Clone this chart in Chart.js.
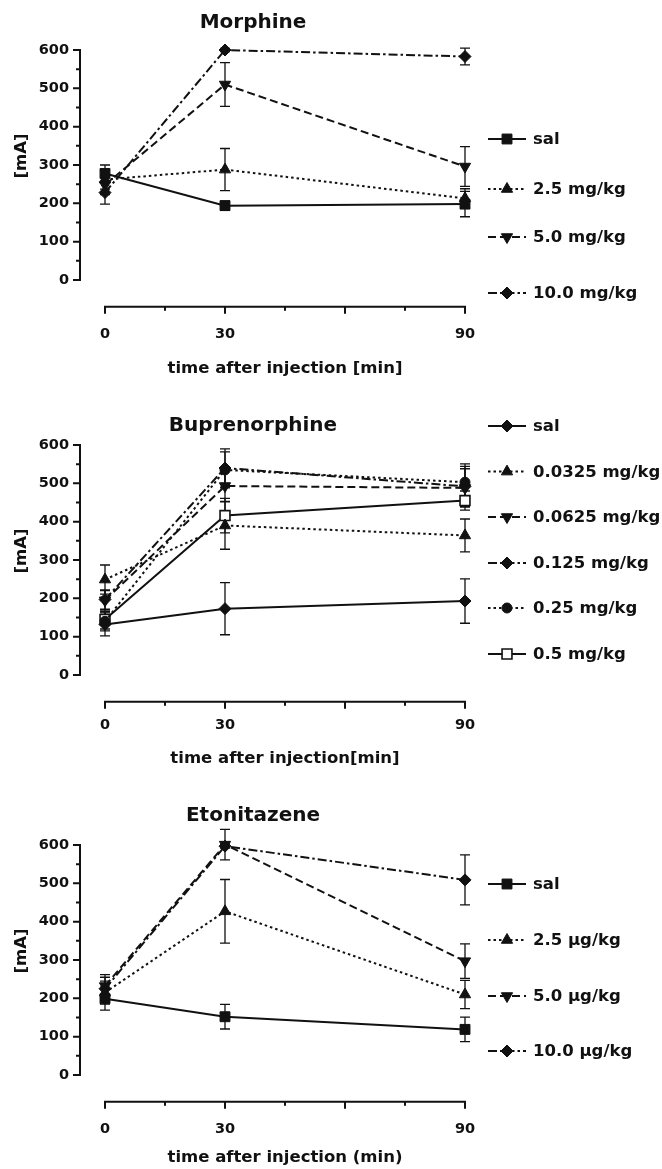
<!DOCTYPE html>
<html>
<head>
<meta charset="utf-8">
<script src="https://cdn.jsdelivr.net/npm/chart.js@4.4.1/dist/chart.umd.min.js"></script>
<style>
  html, body { margin: 0; padding: 0; background: #ffffff; }
  #wrap { position: relative; width: 662px; height: 1169px; overflow: hidden; }
  .pan { position: absolute; left: 0; width: 662px; }
</style>
</head>
<body>
<div id="wrap">
  <div class="pan" style="top:0px;height:390px"><canvas id="c1"></canvas></div>
  <div class="pan" style="top:390px;height:390px"><canvas id="c2"></canvas></div>
  <div class="pan" style="top:780px;height:389px"><canvas id="c3"></canvas></div>
</div>
<script>
// ---------------- DATA ----------------
const times = [0, 30, 90];
const xTickValues = [0, 30, 90];
const xAxisMarks = [0, 15, 30, 45, 60, 75, 90];
const xMajorMarks = [0, 30, 60, 90];
const yTickValues = [0, 100, 200, 300, 400, 500, 600];
const yAxisMarks = [0, 50, 100, 150, 200, 250, 300, 350, 400, 450, 500, 550, 600];

const panelTitles = ['Morphine', 'Buprenorphine', 'Etonitazene'];
const xTitles = ['time after injection [min]', 'time after injection[min]', 'time after injection (min)'];
const yTitle = '[mA]';

// Morphine
const morLabels = ['sal', '2.5 mg/kg', '5.0 mg/kg', '10.0 mg/kg'];
const morSal = [278, 194, 198];
const morSalErr = [22, 12, 33];
const mor25 = [262, 288, 213];
const mor25Err = [25, 55, 25];
const mor50 = [248, 510, 296];
const mor50Err = [25, 57, 52];
const mor100 = [228, 600, 583];
const mor100Err = [30, 4, 22];

// Buprenorphine
const bupLabels = ['sal', '0.0325 mg/kg', '0.0625 mg/kg', '0.125 mg/kg', '0.25 mg/kg', '0.5 mg/kg'];
const bupSal = [132, 173, 193];
const bupSalErr = [30, 68, 58];
const bup0325 = [249, 390, 364];
const bup0325Err = [38, 62, 43];
const bup0625 = [195, 493, 488];
const bup0625Err = [25, 40, 50];
const bup125 = [197, 540, 492];
const bup125Err = [25, 50, 52];
const bup25 = [140, 535, 503];
const bup25Err = [25, 47, 48];
const bup5 = [145, 416, 455];
const bup5Err = [25, 45, 25];

// Etonitazene
const etoLabels = ['sal', '2.5 \u00b5g/kg', '5.0 \u00b5g/kg', '10.0 \u00b5g/kg'];
const etoSal = [199, 152, 119];
const etoSalErr = [30, 32, 32];
const eto25 = [215, 427, 210];
const eto25Err = [30, 83, 37];
const eto50 = [232, 601, 297];
const eto50Err = [30, 40, 45];
const eto100 = [225, 597, 509];
const eto100Err = [30, 5, 65];

// ---------------- STYLE ----------------
const INK = '#111111';
const FONT = '"DejaVu Sans", "Liberation Sans", Arial, sans-serif';
const SOLID = [];
const DOT = [2.5, 3];
const DASH = [8, 4];
const DASHDOT = [9, 3, 2.5, 3];
const AREA_H = 670 * 230 / 600; // y from -70 to 600, 230px per 600 units

function drawMarker(ctx, style, x, y, r, rot, fill) {
  ctx.save();
  ctx.setLineDash([]);
  ctx.beginPath();
  if (style === 'rect') {
    const s = Math.SQRT1_2 * r;
    ctx.rect(x - s, y - s, 2 * s, 2 * s);
  } else if (style === 'rectRot') {
    ctx.moveTo(x - r, y); ctx.lineTo(x, y - r); ctx.lineTo(x + r, y); ctx.lineTo(x, y + r); ctx.closePath();
  } else if (style === 'triangle') {
    let a = (rot || 0) * Math.PI / 180;
    for (let k = 0; k < 3; k++) {
      const px = x + Math.sin(a) * r, py = y - Math.cos(a) * r;
      if (k === 0) ctx.moveTo(px, py); else ctx.lineTo(px, py);
      a += 2 * Math.PI / 3;
    }
    ctx.closePath();
  } else {
    ctx.arc(x, y, r, 0, Math.PI * 2);
  }
  ctx.fillStyle = fill;
  ctx.fill();
  ctx.lineWidth = fill === '#ffffff' ? 1.6 : 1;
  ctx.strokeStyle = INK;
  ctx.stroke();
  ctx.restore();
}

const axesPlugin = {
  id: 'customAxes',
  beforeDatasetsDraw(chart) {
    const { ctx, chartArea: a, scales: { x, y } } = chart;
    ctx.save();
    ctx.strokeStyle = INK;
    ctx.lineWidth = 2;
    ctx.setLineDash([]);
    // y axis
    const yTop = y.getPixelForValue(600), yBot = y.getPixelForValue(0);
    ctx.beginPath();
    ctx.moveTo(a.left, yTop - 1); ctx.lineTo(a.left, yBot + 1);
    yAxisMarks.forEach(v => {
      const py = y.getPixelForValue(v);
      const len = yTickValues.includes(v) ? 7 : 4;
      ctx.moveTo(a.left - len, py); ctx.lineTo(a.left, py);
    });
    ctx.stroke();
    // x axis
    const xl = x.getPixelForValue(0), xr = x.getPixelForValue(90);
    ctx.beginPath();
    ctx.moveTo(xl - 1, a.bottom); ctx.lineTo(xr + 1, a.bottom);
    xAxisMarks.forEach(v => {
      const px = x.getPixelForValue(v);
      const len = xMajorMarks.includes(v) ? 7 : 4;
      ctx.moveTo(px, a.bottom); ctx.lineTo(px, a.bottom + len);
    });
    ctx.stroke();
    // error bars
    ctx.lineWidth = 1.3;
    chart.data.datasets.forEach(ds => {
      ds.data.forEach((p, j) => {
        const e = ds.err[j];
        if (!e) return;
        const px = x.getPixelForValue(p.x);
        const top = y.getPixelForValue(p.y + e), bot = y.getPixelForValue(p.y - e);
        ctx.beginPath();
        ctx.moveTo(px, top); ctx.lineTo(px, bot);
        ctx.moveTo(px - 5, top); ctx.lineTo(px + 5, top);
        ctx.moveTo(px - 5, bot); ctx.lineTo(px + 5, bot);
        ctx.stroke();
      });
    });
    ctx.restore();
  }
};

const textPlugin = {
  id: 'customText',
  afterDraw(chart) {
    const o = chart.options.plugins.customText;
    const { ctx, scales: { x, y } } = chart;
    ctx.save();
    ctx.fillStyle = INK;
    ctx.textBaseline = 'middle';
    ctx.textAlign = 'center';
    ctx.font = 'bold 20px ' + FONT;
    ctx.fillText(o.title, o.titleX, o.titleY);
    ctx.font = 'bold 16.5px ' + FONT;
    ctx.fillText(o.xTitle, (x.getPixelForValue(0) + x.getPixelForValue(90)) / 2, o.xTitleY);
    ctx.save();
    ctx.translate(22, (y.getPixelForValue(0) + y.getPixelForValue(600)) / 2 - 9);
    ctx.rotate(-Math.PI / 2);
    ctx.fillText(yTitle, 0, 0);
    ctx.restore();
    // legend
    ctx.textAlign = 'left';
    chart.data.datasets.forEach((ds, i) => {
      const ly = o.legendY[i];
      ctx.save();
      ctx.strokeStyle = INK;
      ctx.lineWidth = 2;
      ctx.setLineDash(ds.borderDash);
      ctx.beginPath();
      ctx.moveTo(488, ly); ctx.lineTo(526, ly);
      ctx.stroke();
      ctx.restore();
      drawMarker(ctx, ds.pointStyle, 507, ly, ds.pointRadius, ds.pointRotation, ds.pointBackgroundColor);
      ctx.font = 'bold 16.5px ' + FONT;
      ctx.fillStyle = INK;
      ctx.fillText(ds.label, 533, ly + 1);
    });
    ctx.restore();
  }
};

function series(label, values, err, style, dash, r, rot, open) {
  return {
    label: label,
    data: times.map((t, j) => ({ x: t, y: values[j] })),
    err: err,
    borderColor: INK,
    backgroundColor: INK,
    borderWidth: 2,
    borderDash: dash,
    pointStyle: style,
    pointRadius: r,
    pointHoverRadius: r,
    pointRotation: rot || 0,
    pointBackgroundColor: open ? '#ffffff' : INK,
    pointBorderColor: INK,
    pointBorderWidth: open ? 1.6 : 1,
    tension: 0,
    fill: false,
    clip: false
  };
}

function makePanel(id, H, top600, xLabelPad, datasets, textOpts) {
  const canvas = document.getElementById(id);
  canvas.width = 662; canvas.height = H;
  canvas.style.width = '662px'; canvas.style.height = H + 'px';
  const tickFont = { family: FONT, size: 14.5, weight: 'bold' };
  return new Chart(canvas, {
    type: 'line',
    data: { datasets: datasets },
    options: {
      responsive: false,
      animation: false,
      devicePixelRatio: 1,
      layout: { padding: { top: top600, left: 0, right: 662 - 465, bottom: 0 } },
      plugins: { legend: { display: false }, tooltip: { enabled: false }, title: { display: false }, customText: textOpts },
      scales: {
        x: {
          type: 'linear', min: -6.25, max: 90,
          afterFit: s => { s.height = H - top600 - AREA_H; },
          afterBuildTicks: s => { s.ticks = xTickValues.map(v => ({ value: v })); },
          grid: { display: false, drawTicks: false },
          border: { display: false },
          ticks: { font: tickFont, color: INK, padding: xLabelPad, maxRotation: 0, autoSkip: false, callback: v => String(v) }
        },
        y: {
          type: 'linear', min: -70, max: 600,
          afterFit: s => { s.width = 80; },
          afterBuildTicks: s => { s.ticks = yTickValues.map(v => ({ value: v })); },
          grid: { display: false, drawTicks: false },
          border: { display: false },
          ticks: { font: tickFont, color: INK, padding: 11, callback: v => String(v) }
        }
      }
    },
    plugins: [axesPlugin, textPlugin]
  });
}

makePanel('c1', 390, 50, 19, [
  series(morLabels[0], morSal, morSalErr, 'rect', SOLID, 7),
  series(morLabels[1], mor25, mor25Err, 'triangle', DOT, 6.5),
  series(morLabels[2], mor50, mor50Err, 'triangle', DASH, 6.5, 180),
  series(morLabels[3], mor100, mor100Err, 'rectRot', DASHDOT, 6)
], { title: panelTitles[0], titleX: 253, titleY: 23, xTitle: xTitles[0], xTitleY: 369, legendY: [139, 189, 237, 293] });

makePanel('c2', 390, 55, 15, [
  series(bupLabels[0], bupSal, bupSalErr, 'rectRot', SOLID, 6),
  series(bupLabels[1], bup0325, bup0325Err, 'triangle', DOT, 6.5),
  series(bupLabels[2], bup0625, bup0625Err, 'triangle', DASH, 6.5, 180),
  series(bupLabels[3], bup125, bup125Err, 'rectRot', DASHDOT, 6),
  series(bupLabels[4], bup25, bup25Err, 'circle', DOT, 5),
  series(bupLabels[5], bup5, bup5Err, 'rect', SOLID, 7, 0, true)
], { title: panelTitles[1], titleX: 253, titleY: 36, xTitle: xTitles[1], xTitleY: 369, legendY: [36, 81.6, 127, 173, 218, 264] });

makePanel('c3', 389, 65, 19, [
  series(etoLabels[0], etoSal, etoSalErr, 'rect', SOLID, 7),
  series(etoLabels[1], eto25, eto25Err, 'triangle', DOT, 6.5),
  series(etoLabels[2], eto50, eto50Err, 'triangle', DASH, 6.5, 180),
  series(etoLabels[3], eto100, eto100Err, 'rectRot', DASHDOT, 6)
], { title: panelTitles[2], titleX: 253, titleY: 36, xTitle: xTitles[2], xTitleY: 378, legendY: [104, 160, 216, 271] });
</script>
</body>
</html>
